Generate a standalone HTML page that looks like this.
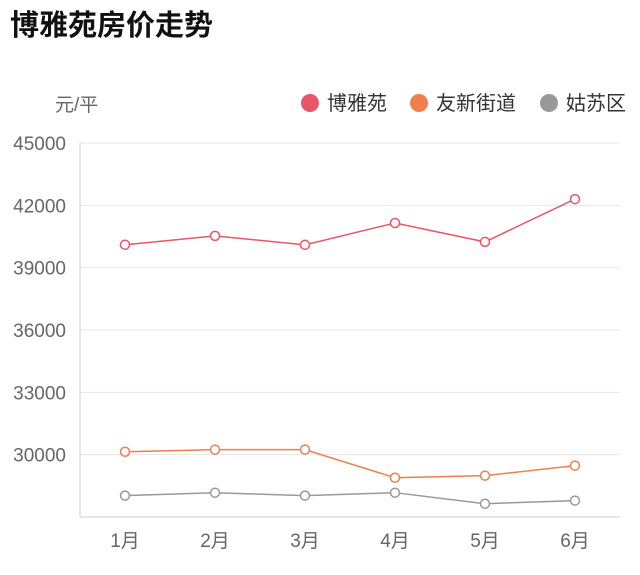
<!DOCTYPE html>
<html><head><meta charset="utf-8"><style>
body{margin:0;background:#fff;width:640px;height:570px;overflow:hidden;font-family:"Liberation Sans","Noto Sans CJK SC",sans-serif}
</style></head><body>
<svg width="640" height="570">
<text x="10" y="35" font-size="29" font-weight="bold" fill="#111" font-family="Liberation Sans, Noto Sans CJK SC, sans-serif">博雅苑房价走势</text>
<text x="55" y="111" font-size="19" fill="#666" font-family="Liberation Sans, Noto Sans CJK SC, sans-serif">元/平</text>
<g id="legend"></g>
<g id="grid"></g><g id="series"></g>
</svg>
<script>
const categories=["1月","2月","3月","4月","5月","6月"];
const yTicks=[30000,33000,36000,39000,42000,45000];
const seriesNames=["博雅苑","友新街道","姑苏区"];
const seriesColors=["#e8566a","#f07f4c","#999999"];
const boyayuan=[40100,40530,40100,41150,40240,42300];
const youxin=[30140,30240,30240,28890,28990,29470];
const gusu=[28030,28170,28030,28170,27640,27790];
const allSeries=[boyayuan,youxin,gusu];
const NS="http://www.w3.org/2000/svg";
const y0=517,y1=143,vmin=27000,vmax=45000,xl=80,xr=620;
const y=v=>y0-(v-vmin)/(vmax-vmin)*(y0-y1);
const bw=(xr-xl)/categories.length;
const x=i=>xl+bw*(i+0.5);
function mk(t,a,p){const e=document.createElementNS(NS,t);for(const k in a)e.setAttribute(k,a[k]);p.appendChild(e);return e;}
const grid=document.getElementById('grid');
yTicks.forEach(v=>{
 const l=mk('line',{x1:xl,x2:xr,y1:y(v),y2:y(v),stroke:'#e6e6e6','stroke-width':1},grid);
 
 
 const t=mk('text',{x:66,y:y(v)+7,'text-anchor':'end','font-size':19,fill:'#666'},grid);
 t.textContent=v;
 
 
});
const ax=mk('line',{x1:xl,x2:xr,y1:y0,y2:y0,stroke:'#ccc'},grid);


const ay=mk('line',{x1:xl,x2:xl,y1:y1,y2:y0,stroke:'#ccc'},grid);


categories.forEach((c,i)=>{
 const t=mk('text',{x:x(i),y:547,'text-anchor':'middle','font-size':19,fill:'#666'},grid);
 t.textContent=c;
 
 
});
const sg=document.getElementById('series');
allSeries.forEach((d,s)=>{
 const p=mk('polyline',{points:d.map((v,i)=>x(i)+','+y(v)).join(' '),fill:'none',stroke:seriesColors[s],'stroke-width':1.5},sg);
 
 
 d.forEach((v,i)=>{
  const c=mk('circle',{cx:x(i),cy:y(v),r:4.5,fill:'#fff',stroke:seriesColors[s],'stroke-width':1.5},sg);
  
  
 });
});
const lg=document.getElementById('legend');
const lx=[310,419,549];
seriesNames.forEach((n,i)=>{
 const c=mk('circle',{cx:lx[i],cy:103,r:9,fill:seriesColors[i]},lg);
 
 
 const t=mk('text',{x:lx[i]+17,y:110,'font-size':20,fill:'#333'},lg);
 t.textContent=n;
 
 
});
</script>
</body></html>
